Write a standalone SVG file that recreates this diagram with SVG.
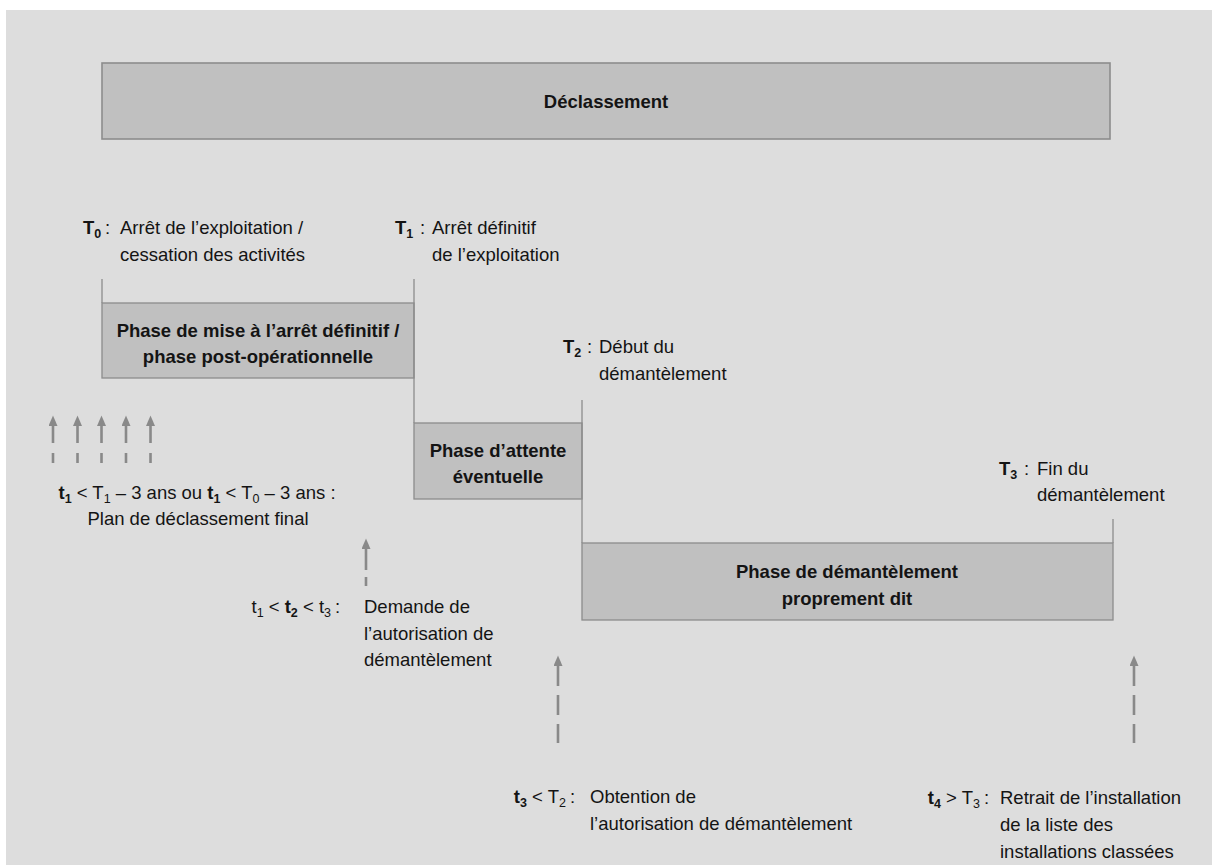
<svg xmlns="http://www.w3.org/2000/svg" width="1212" height="865" viewBox="0 0 1212 865">
  <style>
    text { font-family: "Liberation Sans", Arial, sans-serif; font-size: 18.5px; fill: #141414; }
    .b { font-weight: bold; }
    .sub { font-size: 12.5px; }
    .mid { text-anchor: middle; }
    .end { text-anchor: end; }
    .box { fill: #c0c0c0; stroke: #8c8c8c; stroke-width: 1.3; }
    .edge { stroke: #8c8c8c; stroke-width: 1.3; fill: none; }
    .arrow { stroke: #898989; stroke-width: 2.6; fill: none; marker-start: url(#head); }
  </style>
  <defs>
    <marker id="head" markerUnits="userSpaceOnUse" markerWidth="11" markerHeight="9" refX="0" refY="4.5" orient="auto-start-reverse">
      <path d="M0,0 L10.5,4.5 L0,9 z" fill="#898989"/>
    </marker>
  </defs>

  <!-- panel background -->
  <rect x="0" y="0" width="1212" height="865" fill="#ffffff"/>
  <rect x="6" y="10" width="1206" height="855" fill="#dddddd"/>

  <!-- overall phase -->
  <g id="declassement">
    <rect class="box" x="102" y="63" width="1008" height="76" style="stroke-width:1.6"/>
    <text class="b mid" x="606" y="108">Déclassement</text>
  </g>

  <!-- phase boxes -->
  <g id="phase-arret">
    <rect class="box" x="102" y="303" width="312" height="75"/>
    <text class="b mid" x="258" y="337">Phase de mise à l’arrêt définitif /</text>
    <text class="b mid" x="258" y="363">phase post-opérationnelle</text>
  </g>
  <g id="phase-attente">
    <rect class="box" x="414" y="423" width="168" height="76"/>
    <text class="b mid" x="498" y="457">Phase d’attente</text>
    <text class="b mid" x="498" y="483">éventuelle</text>
  </g>
  <g id="phase-demantelement">
    <rect class="box" x="582" y="543" width="531" height="77"/>
    <text class="b mid" x="847" y="578">Phase de démantèlement</text>
    <text class="b mid" x="847" y="605">proprement dit</text>
  </g>

  <!-- milestones -->
  <g id="t0">
    <text x="83" y="234"><tspan class="b">T</tspan><tspan class="b sub" dy="3.5">0</tspan></text>
    <text x="105" y="234">:</text>
    <text x="120" y="234">Arrêt de l’exploitation /</text>
    <text x="120" y="261">cessation des activités</text>
  </g>
  <g id="t1">
    <text x="395" y="234"><tspan class="b">T</tspan><tspan class="b sub" dy="3.5">1</tspan></text>
    <text x="420" y="234">:</text>
    <text x="432" y="234">Arrêt définitif</text>
    <text x="432" y="261">de l’exploitation</text>
  </g>
  <g id="t2">
    <text x="563" y="353"><tspan class="b">T</tspan><tspan class="b sub" dy="3.5">2</tspan></text>
    <text x="587" y="353">:</text>
    <text x="599" y="353">Début du</text>
    <text x="599" y="380">démantèlement</text>
  </g>
  <g id="t3">
    <text x="999" y="475"><tspan class="b">T</tspan><tspan class="b sub" dy="3.5">3</tspan></text>
    <text x="1024" y="475">:</text>
    <text x="1037" y="475">Fin du</text>
    <text x="1037" y="501">démantèlement</text>
  </g>

  <!-- procedure steps -->
  <g id="step-plan">
    <text class="mid" x="197" y="499"><tspan class="b">t</tspan><tspan class="b sub" dy="3.5">1</tspan><tspan dy="-3.5"> &lt; T</tspan><tspan class="sub" dy="3.5">1</tspan><tspan dy="-3.5"> – 3 ans ou </tspan><tspan class="b">t</tspan><tspan class="b sub" dy="3.5">1</tspan><tspan dy="-3.5"> &lt; T</tspan><tspan class="sub" dy="3.5">0</tspan><tspan dy="-3.5"> – 3 ans :</tspan></text>
    <text class="mid" x="198" y="525">Plan de déclassement final</text>
  </g>
  <g id="step-demande">
    <text class="end" x="331" y="613">t<tspan class="sub" dy="3.5">1</tspan><tspan dy="-3.5"> &lt; </tspan><tspan class="b">t</tspan><tspan class="b sub" dy="3.5">2</tspan><tspan dy="-3.5"> &lt; t</tspan><tspan class="sub" dy="3.5">3</tspan></text>
    <text x="335" y="613">:</text>
    <text x="364" y="613">Demande de</text>
    <text x="364" y="640">l’autorisation de</text>
    <text x="364" y="666">démantèlement</text>
  </g>
  <g id="step-obtention">
    <text class="end" x="566" y="803"><tspan class="b">t</tspan><tspan class="b sub" dy="3.5">3</tspan><tspan dy="-3.5"> &lt; T</tspan><tspan class="sub" dy="3.5">2</tspan></text>
    <text x="570" y="803">:</text>
    <text x="590" y="803">Obtention de</text>
    <text x="590" y="830">l’autorisation de démantèlement</text>
  </g>
  <g id="step-retrait">
    <text class="end" x="980" y="804"><tspan class="b">t</tspan><tspan class="b sub" dy="3.5">4</tspan><tspan dy="-3.5"> &gt; T</tspan><tspan class="sub" dy="3.5">3</tspan></text>
    <text x="984" y="804">:</text>
    <text x="1000" y="804">Retrait de l’installation</text>
    <text x="1000" y="831">de la liste des</text>
    <text x="1000" y="858">installations classées</text>
  </g>

  <!-- connectors: phase boundaries and step arrows -->
  <g id="connectors">
    <line class="edge" x1="102" y1="279" x2="102" y2="303"/>
    <line class="edge" x1="414" y1="279" x2="414" y2="423"/>
    <line class="edge" x1="582" y1="400" x2="582" y2="543"/>
    <line class="edge" x1="1113" y1="519" x2="1113" y2="543"/>

    <path class="arrow" d="M53,426 V463" stroke-dasharray="17 10"/>
    <path class="arrow" d="M77.5,426 V463" stroke-dasharray="17 10"/>
    <path class="arrow" d="M101.5,426 V463" stroke-dasharray="17 10"/>
    <path class="arrow" d="M126,426 V463" stroke-dasharray="17 10"/>
    <path class="arrow" d="M150.5,426 V463" stroke-dasharray="17 10"/>

    <path class="arrow" d="M366,549 V586" stroke-dasharray="21 7"/>
    <path class="arrow" d="M558,666 V743" stroke-dasharray="20 9"/>
    <path class="arrow" d="M1134,666 V743" stroke-dasharray="20 9"/>
  </g>
</svg>
